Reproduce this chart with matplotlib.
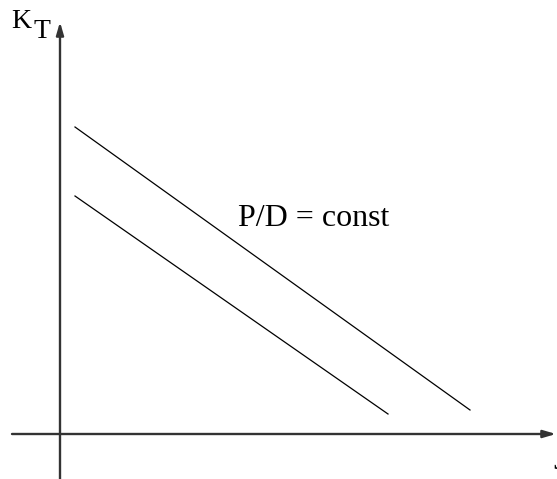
import numpy as np
import matplotlib.pyplot as plt

# open-water curves: K_T falling linearly with J for two pitch ratios
J_upper = [0.15, 4.10]
KT_upper = [3.07, 0.24]
J_lower = [0.15, 3.28]
KT_lower = [2.38, 0.20]

fig = plt.figure(figsize=(5.57, 4.79), dpi=100)
ax = fig.add_axes([0, 0, 1, 1])
ax.set_xlim(-0.60, 4.97)
ax.set_ylim(-0.45, 4.34)
ax.axis('off')

# axes with arrow heads
axis_kw = dict(arrowstyle='-|>,head_length=0.75,head_width=0.22', color='#333333', lw=1.7,
               shrinkA=0, shrinkB=0)
ax.annotate('', xy=(4.96, 0), xytext=(-0.48, 0), arrowprops=axis_kw)
ax.annotate('', xy=(0, 4.12), xytext=(0, -0.50), arrowprops=axis_kw, annotation_clip=False)

ax.plot(J_upper, KT_upper, color='black', lw=0.9)
ax.plot(J_lower, KT_lower, color='black', lw=0.9)

serif = 'Liberation Serif'
ax.text(-0.49, 4.06, 'K', fontsize=20, family=serif, va='baseline', ha='left')
ax.text(-0.27, 3.96, 'T', fontsize=20, family=serif, va='baseline', ha='left')
ax.text(4.93, -0.35, 'J', fontsize=23, family=serif, va='baseline', ha='left')
ax.text(1.78, 2.08, 'P/D = const', fontsize=23, family=serif, va='baseline', ha='left')

fig.savefig('out.png', dpi=100)
